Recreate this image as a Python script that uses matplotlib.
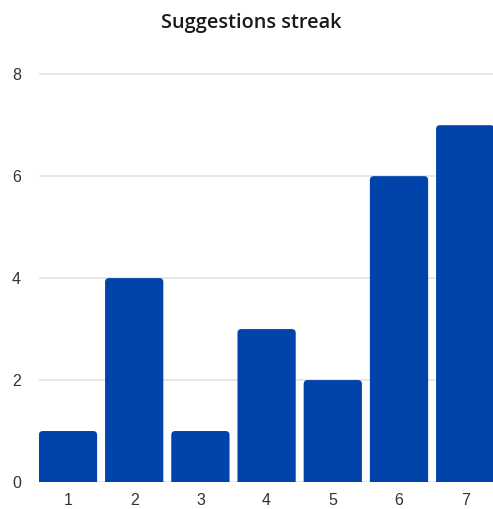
import matplotlib.pyplot as plt
from matplotlib.patches import FancyBboxPatch

days = [1, 2, 3, 4, 5, 6, 7]
streak = [1, 4, 1, 3, 2, 6, 7]
yticks = [0, 2, 4, 6, 8]

bar_color = "#0044aa"

fig = plt.figure(figsize=(4.93, 5.09), dpi=100)
ax = fig.add_axes([39 / 493, 27 / 509, 454 / 493, 418 / 509])

bars = ax.bar(days, streak, width=0.88, color=bar_color, zorder=2)

# swap plain rectangles for ones with rounded tops (bottom hidden below the axis)
for rect in bars:
    x, w, h = rect.get_x(), rect.get_width(), rect.get_height()
    rect.set_visible(False)
    p = FancyBboxPatch((x, -0.3), w, h + 0.3,
                       boxstyle="round,pad=0,rounding_size=0.06",
                       mutation_aspect=1.3, fc=bar_color, ec="none", zorder=2)
    ax.add_patch(p)

ax.set_xlim(0.562, 7.42)
ax.set_ylim(0, 8.2)
ax.set_yticks(yticks)
ax.set_xticks(days)
ax.grid(axis="y", color="#e3e3e3", linewidth=1.2, zorder=0)
ax.set_axisbelow(True)
for s in ax.spines.values():
    s.set_visible(False)
ax.tick_params(length=0, labelsize=11.5, labelcolor="#333333")
ax.tick_params(axis="y", pad=13)
ax.tick_params(axis="x", pad=8)
for lab in ax.get_xticklabels() + ax.get_yticklabels():
    lab.set_fontfamily("Liberation Sans")

fig.text(0.51, 0.955, "Suggestions streak", ha="center", va="center",
         fontsize=14.3, fontweight="semibold", family="Open Sans", color="#1a1a1a")

fig.savefig("out.png", dpi=100)
